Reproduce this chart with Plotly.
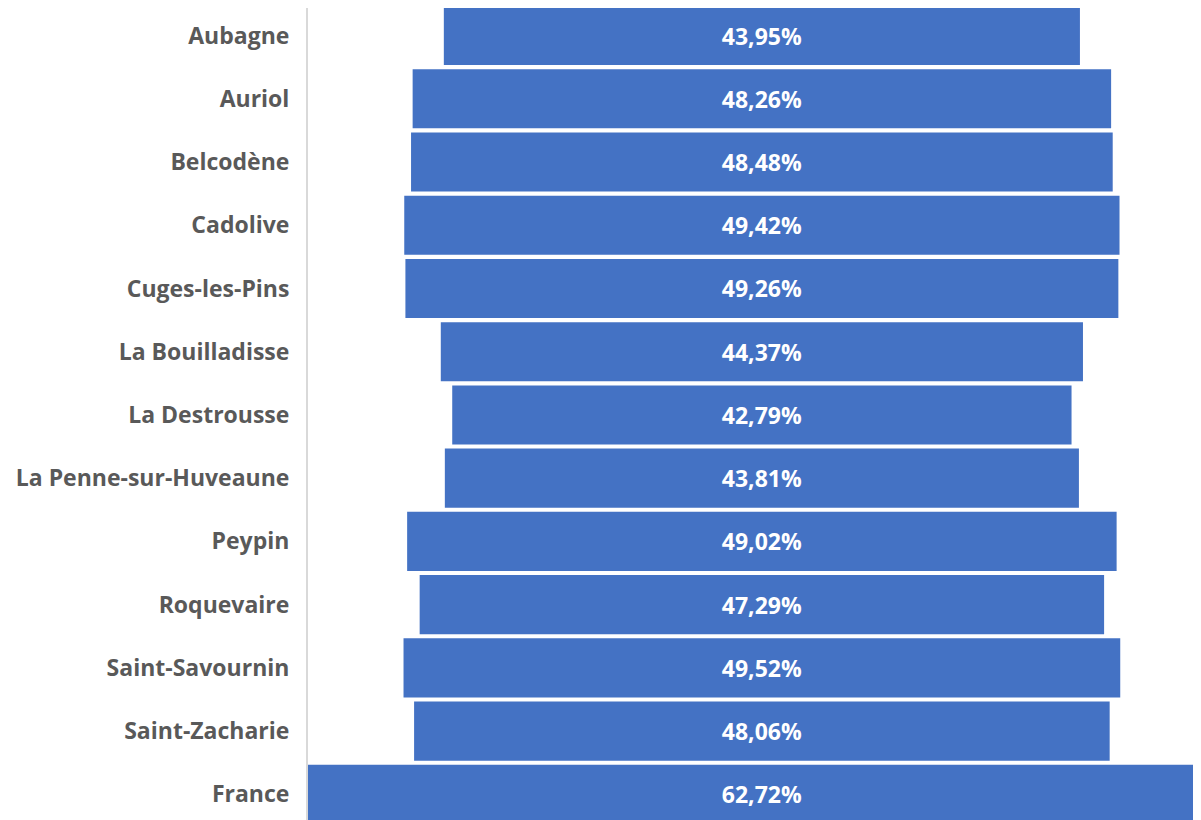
import plotly.graph_objects as go

communes = ["Aubagne", "Auriol", "Belcodène", "Cadolive", "Cuges-les-Pins",
            "La Bouilladisse", "La Destrousse", "La Penne-sur-Huveaune", "Peypin",
            "Roquevaire", "Saint-Savournin", "Saint-Zacharie", "France"]
taux = [43.95, 48.26, 48.48, 49.42, 49.26, 44.37, 42.79, 43.81, 49.02,
        47.29, 49.52, 48.06, 62.72]

# barres centrées : base à -v/2
bases = [-v / 2 for v in taux]
labels = [f"{v:.2f}%".replace(".", ",") for v in taux]

fig = go.Figure(go.Bar(
    y=communes, x=taux, base=bases, orientation="h",
    marker=dict(color="#4472C4", line=dict(width=0)),
    text=labels, textposition="inside", insidetextanchor="middle",
    textfont=dict(family="Open Sans", size=23, color="white", weight="bold"),
    hoverinfo="skip",
))

# la page ajoute 8px de marge au body
fig.update_layout(
    width=1193, height=812,
    margin=dict(l=300, r=0, t=0, b=0),
    paper_bgcolor="white", plot_bgcolor="white",
    bargap=0.065, showlegend=False,
    uniformtext=dict(mode="show", minsize=10),
)
fig.update_xaxes(range=[-31.36, 30.34], visible=False, fixedrange=True)
fig.update_yaxes(
    range=[12.405, -0.435], showgrid=False, zeroline=False,
    showline=True, linecolor="#d9d9d9", linewidth=2,
    ticks="outside", ticklen=12, tickcolor="rgba(0,0,0,0)",
    tickfont=dict(family="Open Sans", size=23, color="#595959", weight="bold"),
)

fig.write_html("out.html")
